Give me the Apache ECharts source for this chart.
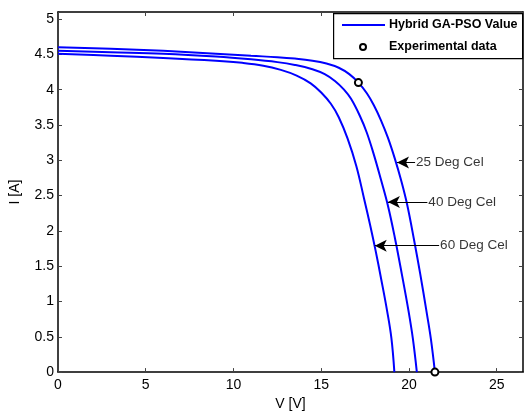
<!DOCTYPE html>
<html>
<head>
<meta charset="utf-8">
<script src="https://cdn.jsdelivr.net/npm/echarts@6/dist/echarts.min.js"></script>
<style>
html,body{margin:0;padding:0;background:#fff;}
#chart{width:524px;height:416px;}
</style>
</head>
<body>
<div id="chart"></div>
<script>
// ---- data ----
const curve25 = [[0,4.60],[3,4.58],[6,4.55],[9,4.51],[11,4.48],[12.5,4.46],[13.5,4.44],[14.5,4.41],[15.3,4.37],[16,4.31],[16.6,4.22],[17.12,4.10],[17.6,3.95],[18.0,3.78],[18.4,3.57],[18.8,3.32],[19.2,3.02],[19.55,2.72],[19.9,2.37],[20.3,1.86],[20.65,1.38],[21.0,0.86],[21.25,0.47],[21.48,0]];
const curve40 = [[0,4.55],[3,4.53],[6,4.51],[9,4.47],[11,4.43],[12.5,4.39],[13.5,4.35],[14.5,4.29],[15.2,4.22],[15.8,4.12],[16.3,4.00],[16.7,3.87],[17.2,3.63],[17.6,3.39],[18.0,3.08],[18.4,2.73],[18.8,2.36],[19.2,1.90],[19.6,1.38],[19.98,0.86],[20.22,0.48],[20.45,0]];
const curve60 = [[0,4.51],[3,4.48],[6,4.45],[9,4.41],[10.5,4.38],[11.7,4.34],[12.7,4.28],[13.6,4.20],[14.4,4.09],[15.0,3.96],[15.55,3.80],[16.0,3.61],[16.5,3.31],[17.0,2.92],[17.44,2.46],[17.8,2.07],[18.1,1.72],[18.4,1.34],[18.76,0.86],[19.0,0.48],[19.17,0]];
const experimental = [[17.12,4.10],[21.48,0]];
const annotText = ['25 Deg Cel','40 Deg Cel','60 Deg Cel'];
const arrowTip  = [[19.32,2.97],[18.80,2.41],[18.05,1.79]];
const arrowTail = [[20.35,2.97],[21.05,2.41],[21.72,1.79]];
const legendNames = ['Hybrid GA-PSO Value','Experimental data'];
const xName = 'V [V]', yName = 'I [A]';

const FONT = 'Liberation Sans, Arial, sans-serif';
const chart = echarts.init(document.getElementById('chart'), null, {renderer:'canvas'});

function lineSeries(data){
  return {type:'line', name:legendNames[0], data:data, symbol:'none', smooth:0.4,
    lineStyle:{color:'#0000ff', width:2}, itemStyle:{color:'#0000ff'}, z:3, animation:false};
}

const axisCommon = {
  axisLine:{show:true, onZero:false, lineStyle:{color:'#000', width:1.5}},
  axisTick:{show:true, inside:true, length:4, lineStyle:{color:'#444', width:1}},
  splitLine:{show:false}
};

chart.setOption({
  animation:false,
  backgroundColor:'#fff',
  grid:{left:55, right:1, top:12, bottom:39, containLabel:false},
  xAxis:[
    Object.assign({type:'value', min:0, max:26.5, interval:5, position:'bottom',
      name:xName, nameLocation:'middle', nameGap:22,
      nameTextStyle:{fontFamily:FONT, fontSize:14, color:'#000'},
      axisLabel:{fontFamily:FONT, fontSize:14, color:'#000', margin:6, showMaxLabel:false}}, axisCommon),
    Object.assign({type:'value', min:0, max:26.5, interval:5, position:'top',
      axisLabel:{show:false}}, axisCommon)
  ],
  yAxis:[
    Object.assign({type:'value', min:0, max:5.1, interval:0.5, position:'left',
      name:yName, nameLocation:'middle', nameGap:36, nameRotate:90,
      nameTextStyle:{fontFamily:FONT, fontSize:14, color:'#000'},
      axisLabel:{fontFamily:FONT, fontSize:14, color:'#000', margin:4, showMaxLabel:false}}, axisCommon),
    Object.assign({type:'value', min:0, max:5.1, interval:0.5, position:'right',
      axisLabel:{show:false}}, axisCommon)
  ],
  series:[
    lineSeries(curve25),
    lineSeries(curve40),
    lineSeries(curve60),
    {type:'scatter', name:legendNames[1], data:experimental, symbol:'circle', symbolSize:7, clip:false,
      itemStyle:{color:'#fff', borderColor:'#000', borderWidth:2, opacity:1}, z:5},
    {type:'scatter', name:'annot', silent:true, symbolSize:0, clip:false,
      data:arrowTail.map((p,i)=>({value:p, name:annotText[i]})),
      label:{show:true, position:'right', distance:1, formatter:'{b}',
        fontFamily:FONT, fontSize:13.5, color:'#000'},
      markLine:{silent:true, animation:false, symbol:['none','arrow'], symbolSize:[9,12],
        lineStyle:{color:'#000', width:1, type:'solid'}, label:{show:false},
        data:arrowTail.map((p,i)=>[{coord:p},{coord:arrowTip[i]}])},
      z:6}
  ],
  graphic:[
    {type:'rect', left:333, top:13, shape:{width:189, height:45},
      style:{fill:'#fff', stroke:'#000', lineWidth:1.2}, z:100},
    {type:'line', shape:{x1:342, y1:25, x2:385, y2:25}, style:{stroke:'#0000ff', lineWidth:2}, z:101},
    {type:'text', x:389, y:25, style:{text:legendNames[0], fontFamily:FONT, fontWeight:'bold', fontSize:12.5,
      fill:'#000', verticalAlign:'middle', align:'left'}, z:101},
    {type:'circle', shape:{cx:363, cy:47, r:3}, style:{fill:'#fff', stroke:'#000', lineWidth:2}, z:101},
    {type:'text', x:389, y:47, style:{text:legendNames[1], fontFamily:FONT, fontWeight:'bold', fontSize:12.5,
      fill:'#000', verticalAlign:'middle', align:'left'}, z:101}
  ]
});
</script>
</body>
</html>
